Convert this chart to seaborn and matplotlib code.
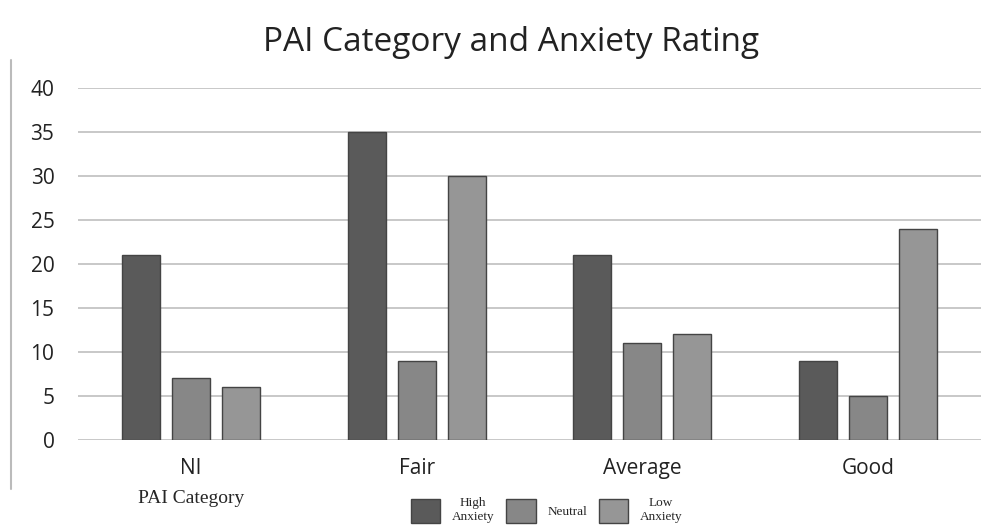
import pandas as pd
import matplotlib
matplotlib.use("Agg")
import matplotlib.pyplot as plt
import seaborn as sns
from matplotlib.lines import Line2D
from matplotlib.patches import Patch

categories = ["NI", "Fair", "Average", "Good"]
ratings = ["High Anxiety", "Neutral", "Low Anxiety"]
high_anxiety = [21, 35, 21, 9]
neutral = [7, 9, 11, 5]
low_anxiety = [6, 30, 12, 24]

colors = ["#5a5a5a", "#878787", "#969696"]

df = pd.DataFrame({
    "category": categories * 3,
    "rating": [r for r in ratings for _ in categories],
    "count": high_anxiety + neutral + low_anxiety,
})

sns.set_style("white")
plt.rcParams["font.family"] = ["Open Sans", "DejaVu Sans"]

fig = plt.figure(figsize=(10.07, 5.26), dpi=100)
ax = fig.add_axes([0.0775, 0.1635, 0.8965, 0.6692])

sns.barplot(data=df, x="category", y="count", hue="rating", order=categories,
            hue_order=ratings, palette=colors, width=0.665, gap=0.24,
            edgecolor="#444444", linewidth=1.0, legend=False, ax=ax, zorder=3)

ax.set_ylim(0, 40)
ax.set_yticks(range(0, 41, 5))
ax.yaxis.grid(True, color="#c8c8c8", linewidth=1.4, zorder=0)
ax.set_axisbelow(True)
for s in ax.spines.values():
    s.set_visible(False)
ax.set_xlabel("")
ax.set_ylabel("")
ax.tick_params(axis="y", labelsize=15, pad=17, length=0, colors="#222222")
ax.tick_params(axis="x", labelsize=15, pad=13, length=0, colors="#222222")

fig.text(0.508, 0.92, "PAI Category and Anxiety Rating", ha="center", va="center",
         fontsize=24, color="#222222")

# left border line of the original image
fig.add_artist(Line2D([0.011, 0.011], [0.07, 0.885], color="#bbbbbb", linewidth=1.5))

fig.text(0.19, 0.052, "PAI Category", ha="center", va="center",
         family="Liberation Serif", fontsize=14)

handles = [Patch(facecolor=c, edgecolor="#444444") for c in colors]
leg = fig.legend(handles, ["High\nAnxiety", "Neutral", "Low\nAnxiety"], loc="center",
                 bbox_to_anchor=(0.543, 0.03), ncol=3, frameon=False,
                 prop={"family": "Liberation Serif", "size": 9.5},
                 handlelength=2.2, handleheight=2.4, columnspacing=0.9,
                 handletextpad=0.9, borderpad=0.2)
for t in leg.get_texts():
    t.set_multialignment("center")

fig.savefig("out.png", dpi=100)
